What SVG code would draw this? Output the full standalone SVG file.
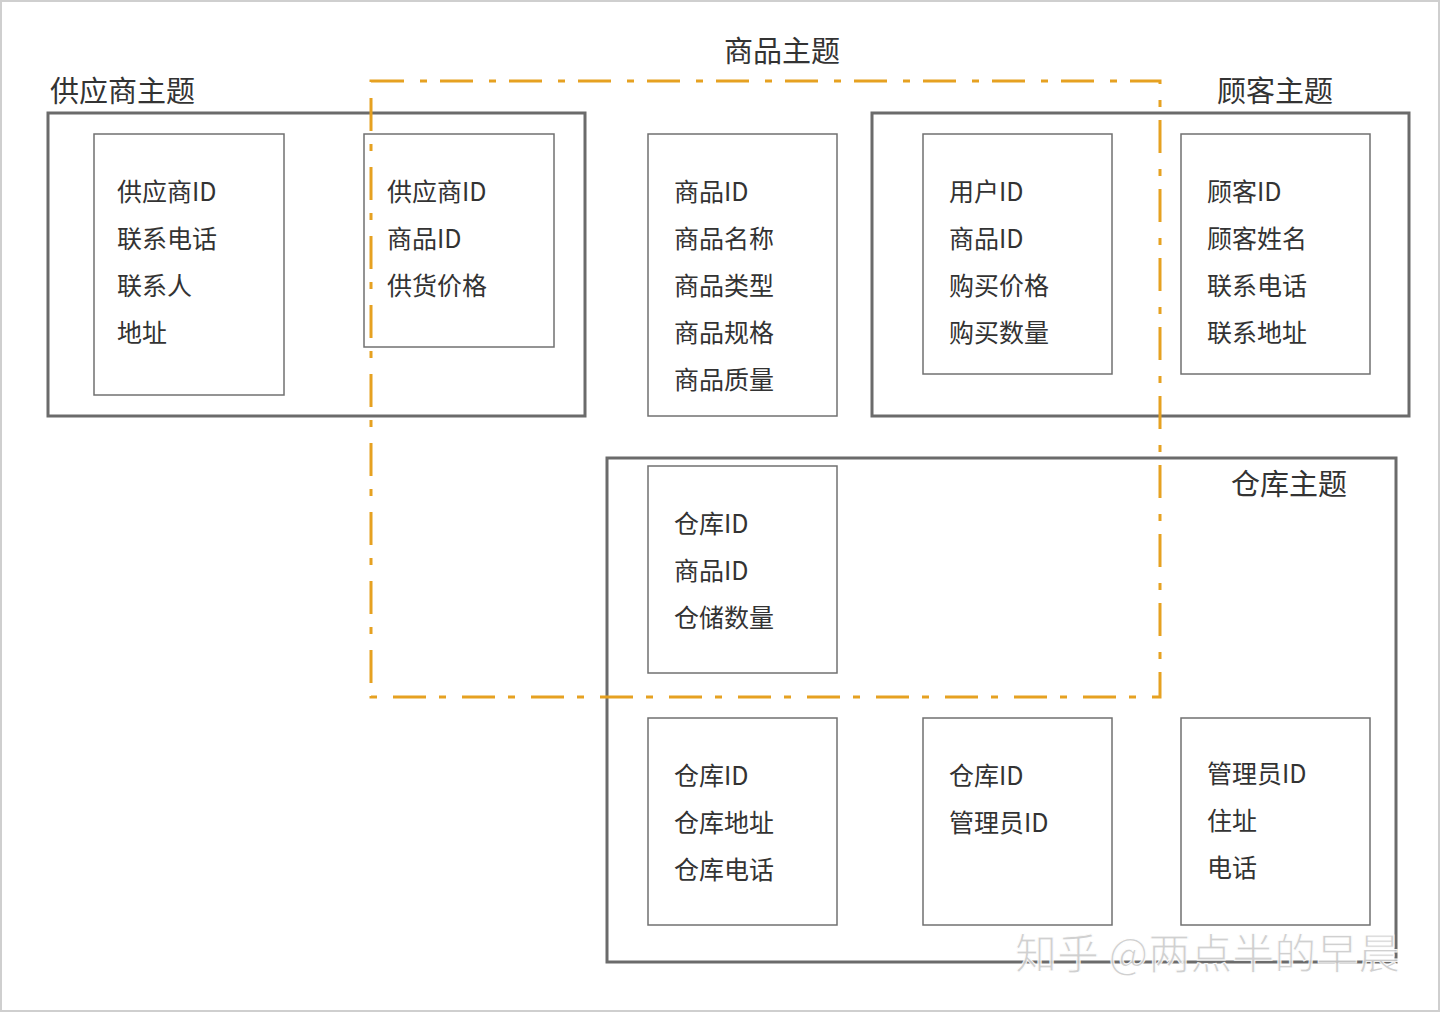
<svg xmlns="http://www.w3.org/2000/svg" width="1440" height="1013" viewBox="0 0 1440 1013">
<style>
.frame{fill:none;stroke:#6b6b6b;stroke-width:3}
.box{fill:none;stroke:#707070;stroke-width:1.5}
.t{font-family:"Noto Sans CJK SC","Liberation Sans",sans-serif;font-size:25px;fill:#333}
.title{font-family:"Noto Sans CJK SC","Liberation Sans",sans-serif;font-size:29px;fill:#333}
.dash{fill:none;stroke:#e6a121;stroke-width:3;stroke-dasharray:33 16 7 13}
</style>
<rect x="0" y="0" width="1440" height="1013" fill="#fff"/>
<rect x="1" y="1" width="1438" height="1010" fill="none" stroke="#cfcfcf" stroke-width="2"/>

<g id="supplier-theme">
<text class="title" x="50" y="102">供应商主题</text>
<rect class="frame" x="48" y="113" width="537" height="303"/>
</g>
<g id="supplier">
<rect class="box" x="94" y="134" width="190" height="261"/>
<text class="t" x="117" y="201">供应商ID</text>
<text class="t" x="117" y="248">联系电话</text>
<text class="t" x="117" y="295">联系人</text>
<text class="t" x="117" y="342">地址</text>
</g>
<g id="supply">
<rect class="box" x="364" y="134" width="190" height="213"/>
<text class="t" x="387" y="201">供应商ID</text>
<text class="t" x="387" y="248">商品ID</text>
<text class="t" x="387" y="295">供货价格</text>
</g>

<g id="product-theme">
<text class="title" x="724" y="62">商品主题</text>
</g>
<g id="product">
<rect class="box" x="648" y="134" width="189" height="282"/>
<text class="t" x="674" y="201">商品ID</text>
<text class="t" x="674" y="248">商品名称</text>
<text class="t" x="674" y="295">商品类型</text>
<text class="t" x="674" y="342">商品规格</text>
<text class="t" x="674" y="389">商品质量</text>
</g>

<g id="customer-theme">
<text class="title" x="1217" y="102">顾客主题</text>
<rect class="frame" x="872" y="113" width="537" height="303"/>
</g>
<g id="purchase">
<rect class="box" x="923" y="134" width="189" height="240"/>
<text class="t" x="949" y="201">用户ID</text>
<text class="t" x="949" y="248">商品ID</text>
<text class="t" x="949" y="295">购买价格</text>
<text class="t" x="949" y="342">购买数量</text>
</g>
<g id="customer">
<rect class="box" x="1181" y="134" width="189" height="240"/>
<text class="t" x="1207" y="201">顾客ID</text>
<text class="t" x="1207" y="248">顾客姓名</text>
<text class="t" x="1207" y="295">联系电话</text>
<text class="t" x="1207" y="342">联系地址</text>
</g>

<g id="warehouse-theme">
<rect class="frame" x="607" y="458" width="789" height="504"/>
<text class="title" x="1231" y="495">仓库主题</text>
</g>
<g id="stock">
<rect class="box" x="648" y="466" width="189" height="207"/>
<text class="t" x="674" y="533">仓库ID</text>
<text class="t" x="674" y="580">商品ID</text>
<text class="t" x="674" y="627">仓储数量</text>
</g>
<g id="warehouse">
<rect class="box" x="648" y="718" width="189" height="207"/>
<text class="t" x="674" y="785">仓库ID</text>
<text class="t" x="674" y="832">仓库地址</text>
<text class="t" x="674" y="879">仓库电话</text>
</g>
<g id="warehouse-admin">
<rect class="box" x="923" y="718" width="189" height="207"/>
<text class="t" x="949" y="785">仓库ID</text>
<text class="t" x="949" y="832">管理员ID</text>
</g>
<g id="admin">
<rect class="box" x="1181" y="718" width="189" height="207"/>
<text class="t" x="1207" y="783">管理员ID</text>
<text class="t" x="1207" y="830">住址</text>
<text class="t" x="1207" y="877">电话</text>
</g>

<g id="connectors">
<rect class="dash" x="371" y="81" width="789" height="616"/>
</g>

<text x="1015" y="969" font-family="Noto Sans CJK SC, sans-serif" font-size="42" fill="#cccccc" stroke="#ffffff" stroke-width="1" opacity="0.9">知乎 @两点半的早晨</text>
</svg>
